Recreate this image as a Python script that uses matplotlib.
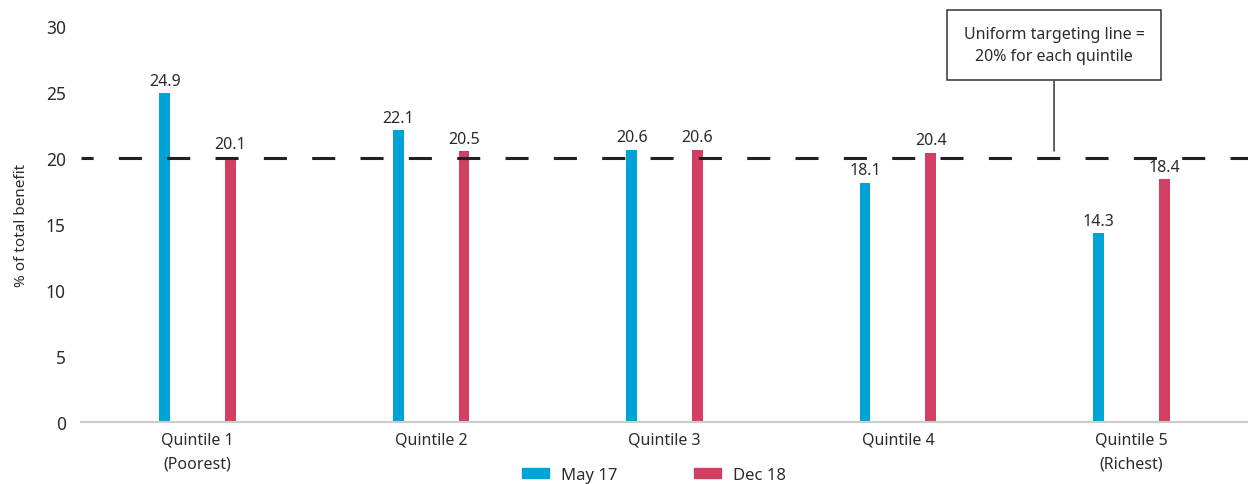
import matplotlib
matplotlib.use("Agg")
import matplotlib.pyplot as plt
from matplotlib.patches import Patch
import numpy as np

categories = ["Quintile 1\n(Poorest)", "Quintile 2", "Quintile 3", "Quintile 4", "Quintile 5\n(Richest)"]
may17 = [24.9, 22.1, 20.6, 18.1, 14.3]
dec18 = [20.1, 20.5, 20.6, 20.4, 18.4]
series_names = ["May 17", "Dec 18"]
yticks = [0, 5, 10, 15, 20, 25, 30]
uniform_line = 20

plt.rcParams['font.family'] = ['Noto Sans', 'DejaVu Sans']
plt.rcParams['lines.scale_dashes'] = False

blue = '#00A3D5'
red = '#D23F63'
txt = '#2b2b2b'

fig = plt.figure(figsize=(12.48, 4.85), dpi=100)
ax = fig.add_axes([81/1248, 1-423/485, 1167/1248, 396/485])

x = np.arange(len(categories))
off = 0.141
w = 0.047
ax.bar(x - off, may17, width=w, color=blue, zorder=2)
ax.bar(x + off, dec18, width=w, color=red, zorder=2)

for xi, v in zip(x - off, may17):
    ax.text(xi, v + 0.35, f"{v:.1f}", ha='center', va='bottom', fontsize=11.5, color=txt)
for xi, v in zip(x + off, dec18):
    ax.text(xi, v + 0.35, f"{v:.1f}", ha='center', va='bottom', fontsize=11.5, color=txt)

ax.axhline(uniform_line, color='#222222', lw=2.2,
           linestyle=(7.9, (16.6, 18.2)), dash_capstyle='butt', zorder=3)

ax.set_xlim(-0.5, 4.5)
ax.set_ylim(0, 30)
ax.set_yticks(yticks)
ax.set_yticklabels([str(t) for t in yticks], fontsize=12.5, color=txt)
ax.set_xticks(x)
ax.set_xticklabels(categories, fontsize=11.5, color=txt, linespacing=1.65)
ax.tick_params(axis='both', length=0)
ax.tick_params(axis='y', pad=11)
ax.tick_params(axis='x', pad=7)
for s in ['top', 'right', 'left']:
    ax.spines[s].set_visible(False)
ax.spines['bottom'].set_color('#cccccc')
ax.spines['bottom'].set_linewidth(1.5)
ax.set_ylabel("% of total benefit", fontsize=11, color=txt, labelpad=12)

# annotation box
ax.annotate("Uniform targeting line =\n20% for each quintile",
            xy=(3.669, 20.53), xycoords='data',
            xytext=(3.669, 28.56), textcoords='data',
            ha='center', va='center', fontsize=11.5, color=txt, linespacing=1.45,
            bbox=dict(boxstyle='square,pad=1.05', fc='white', ec='#333333', lw=1.1),
            arrowprops=dict(arrowstyle='-', color='#333333', lw=1.1, shrinkA=0, shrinkB=0))

handles = [Patch(color=blue), Patch(color=red)]
fig.legend(handles, series_names, loc='center', bbox_to_anchor=(654/1248, 1-476/485),
           ncol=2, frameon=False, fontsize=12, handlelength=1.62, handleheight=0.6,
           columnspacing=4.6, handletextpad=0.7, labelcolor=txt, borderpad=0)

fig.savefig("out.png", dpi=100)
